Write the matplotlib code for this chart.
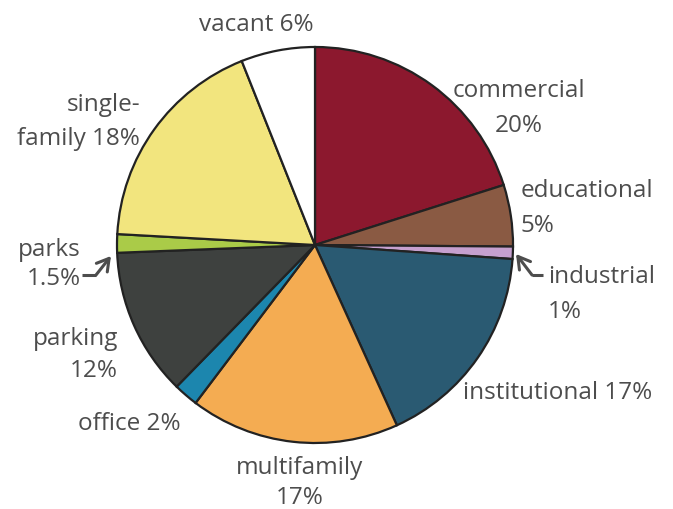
import matplotlib
matplotlib.use("Agg")
import matplotlib.pyplot as plt

categories = ["commercial", "educational", "industrial", "institutional", "multifamily",
              "office", "parking", "parks", "single-family", "vacant"]
values = [20, 5, 1, 17, 17, 2, 12, 1.5, 18, 6]
colors = ["#8C182E", "#8A5A43", "#C6A0CF", "#2A5A72", "#F4AC52",
          "#1C86AE", "#3E413F", "#AACB48", "#F2E57E", "#FFFFFF"]
label_lines = [["commercial", "20%"], ["educational", "5%"], ["industrial", "1%"],
               ["institutional 17%"], ["multifamily", "17%"], ["office 2%"],
               ["parking", "12%"], ["parks", "1.5%"], ["single-", "family 18%"],
               ["vacant 6%"]]

W, H = 673, 510
fig = plt.figure(figsize=(W / 100, H / 100), dpi=100)
cx, cy, R = 315, 246, 198
ax = fig.add_axes([(cx - R) / W, (H - cy - R) / H, 2 * R / W, 2 * R / H])
ax.axis("off")

ax.pie(values, colors=colors, startangle=90, counterclock=False, radius=1,
       wedgeprops=dict(edgecolor="#222222", linewidth=1.6))
ax.set_xlim(-1, 1)
ax.set_ylim(-1, 1)
ax.set_aspect("auto")

def d(px, py):
    return ((px - cx) / R, (cy - py) / R)

tc = "#4d4d4d"
fs = 17.5
font = ["Open Sans", "DejaVu Sans"]
# (anchor pixel x, baselines in pixel y, ha)
pos = {
    "commercial": (519, [97, 132], "center"),
    "educational": (521, [197, 232], "left"),
    "industrial": (548, [283, 318], "left"),
    "institutional": (558, [399], "center"),
    "multifamily": (300, [474, 504], "center"),
    "office": (129, [430], "center"),
    "parking": (118, [345, 377], "right"),
    "parks": (81, [256, 285], "right"),
    "single-family": (140, [111, 145], "right"),
    "vacant": (256, [31], "center"),
}
for cat, lines in zip(categories, label_lines):
    px, bls, ha = pos[cat]
    for line, py in zip(lines, bls):
        x, y = d(px, py)
        ax.text(x, y, line, ha=ha, va="baseline", fontsize=fs, color=tc,
                family=font, clip_on=False)

# bent arrows
def bent_arrow(p0, p1, p2):
    ax.plot([d(*p0)[0], d(*p1)[0]], [d(*p0)[1], d(*p1)[1]], color=tc, lw=2.2,
            solid_capstyle="butt", clip_on=False)
    ax.annotate("", xy=d(*p2), xytext=d(*p1),
                arrowprops=dict(arrowstyle="->,head_length=0.85,head_width=0.5",
                                color=tc, lw=2.2, shrinkA=0, shrinkB=0),
                annotation_clip=False)

bent_arrow((82, 276), (96, 276), (111, 257))
bent_arrow((543, 276), (532, 276), (516, 255))

fig.savefig("out.png", dpi=100)
